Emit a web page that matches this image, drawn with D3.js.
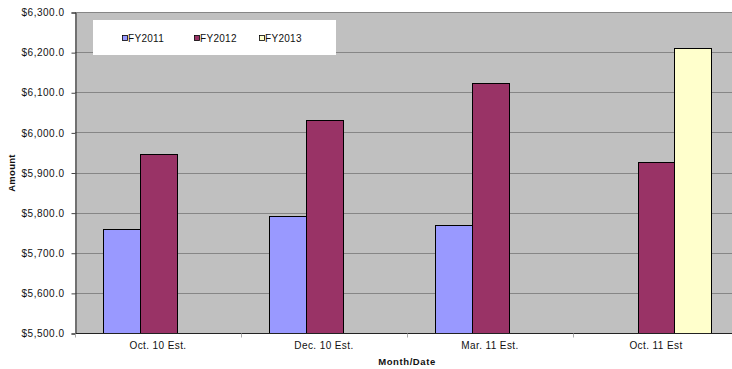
<!DOCTYPE html>
<html>
<head>
<meta charset="utf-8">
<script src="https://cdn.jsdelivr.net/npm/d3@7"></script>
<style>
  html, body { margin: 0; padding: 0; background: #fff; overflow: hidden; }
  svg { display: block; font-family: "Liberation Sans", Arial, sans-serif; }
</style>
</head>
<body>
<svg id="chart" width="732" height="369"></svg>
<script>
const categories = ["Oct. 10 Est.", "Dec. 10 Est.", "Mar. 11 Est.", "Oct. 11 Est"];
const seriesNames = ["FY2011", "FY2012", "FY2013"];
const fy2011 = [5758, 5792, 5768, null];
const fy2012 = [5946, 6032, 6122, 5925];
const fy2013 = [null, null, null, 6210];
const yTicks = [5500, 5600, 5700, 5800, 5900, 6000, 6100, 6200, 6300];
const colors = ["#9999FF", "#993366", "#FFFFCC"];

(function () {
const seriesValues = [fy2011, fy2012, fy2013];
const svg = d3.select("#chart");

const pL = 75, pR = 739, pT = 12, pB = 333;

const x0 = d3.scaleBand().domain(categories).range([pL, pR]);
const groupW = x0.bandwidth() * 3 / 4.5;
const x1 = d3.scaleBand().domain(seriesNames).range([0, groupW]);
const groupOff = (x0.bandwidth() - groupW) / 2;
const y = d3.scaleLinear().domain([5500, 6300]).range([pB, pT]);

// plot background
svg.append("rect").attr("x", pL).attr("y", pT)
  .attr("width", pR - pL).attr("height", pB - pT).attr("fill", "#C0C0C0");

// gridlines
svg.append("g").selectAll("line").data(yTicks.filter(d => d > 5500)).join("line")
  .attr("x1", pL).attr("x2", pR)
  .attr("y1", d => Math.round(y(d)) + 0.5).attr("y2", d => Math.round(y(d)) + 0.5)
  .attr("stroke", "#868686").attr("stroke-width", 1);

// y axis
const yAxis = d3.axisLeft(y).tickValues(yTicks).tickSize(4).tickPadding(7)
  .tickFormat(d => "$" + d3.format(",.1f")(d));
const gy = svg.append("g").attr("transform", `translate(${pL + 0.5},0.5)`).call(yAxis);
gy.select(".domain").attr("stroke", "#222");
gy.selectAll(".tick line").attr("stroke", "#444");
gy.selectAll(".tick text").attr("font-size", 10).attr("letter-spacing", 0.5)
  .attr("fill", "#111").attr("font-family", "'Liberation Sans', Arial, sans-serif");

// bars
const bars = [];
seriesValues.forEach((vals, si) => {
  vals.forEach((v, ci) => {
    if (v != null) bars.push({ cat: categories[ci], s: seriesNames[si], v, si });
  });
});
svg.append("g").selectAll("rect").data(bars).join("rect")
  .attr("x", d => Math.round(x0(d.cat) + groupOff + x1(d.s)) + 0.5)
  .attr("y", d => Math.round(y(d.v)) + 0.5)
  .attr("width", Math.round(x1.bandwidth()))
  .attr("height", d => Math.round(y(5500)) - Math.round(y(d.v)))
  .attr("fill", d => colors[d.si])
  .attr("stroke", "#000").attr("stroke-width", 1);

// x axis
const gx = svg.append("g").attr("transform", `translate(0,${pB + 0.5})`);
gx.append("line").attr("x1", pL).attr("x2", pR).attr("stroke", "#222");
gx.selectAll("line.tk").data(categories).join("line").attr("class", "tk")
  .attr("x1", d => Math.round(x0(d)) + 0.5).attr("x2", d => Math.round(x0(d)) + 0.5)
  .attr("y1", 0).attr("y2", 4).attr("stroke", "#aaa");
gx.selectAll("text").data(categories).join("text")
  .attr("x", d => x0(d) + x0.bandwidth() / 2).attr("y", 15.5)
  .attr("text-anchor", "middle").attr("font-size", 10).attr("letter-spacing", 0.4)
  .attr("fill", "#111").text(d => d);

// axis titles
svg.append("text").attr("x", 407).attr("y", 365)
  .attr("text-anchor", "middle").attr("font-size", 9.5).attr("font-weight", "bold")
  .attr("letter-spacing", 0.6).attr("fill", "#111").text("Month/Date");
svg.append("text").attr("transform", "translate(15,173) rotate(-90)")
  .attr("text-anchor", "middle").attr("font-size", 9.5).attr("font-weight", "bold")
  .attr("letter-spacing", 0.3).attr("fill", "#111").text("Amount");

// legend
const lg = svg.append("g");
lg.append("rect").attr("x", 93).attr("y", 20).attr("width", 243).attr("height", 35)
  .attr("fill", "#fff");
const legX = [122, 194, 259];
seriesNames.forEach((s, i) => {
  lg.append("rect").attr("x", legX[i] + 0.5).attr("y", 35.5).attr("width", 5).attr("height", 5)
    .attr("fill", colors[i]).attr("stroke", "#000").attr("stroke-width", 0.8);
  lg.append("text").attr("x", legX[i] + 6).attr("y", 41.5)
    .attr("font-size", 10).attr("letter-spacing", 0.3).attr("fill", "#111").text(s);
});
})();
</script>
</body>
</html>
